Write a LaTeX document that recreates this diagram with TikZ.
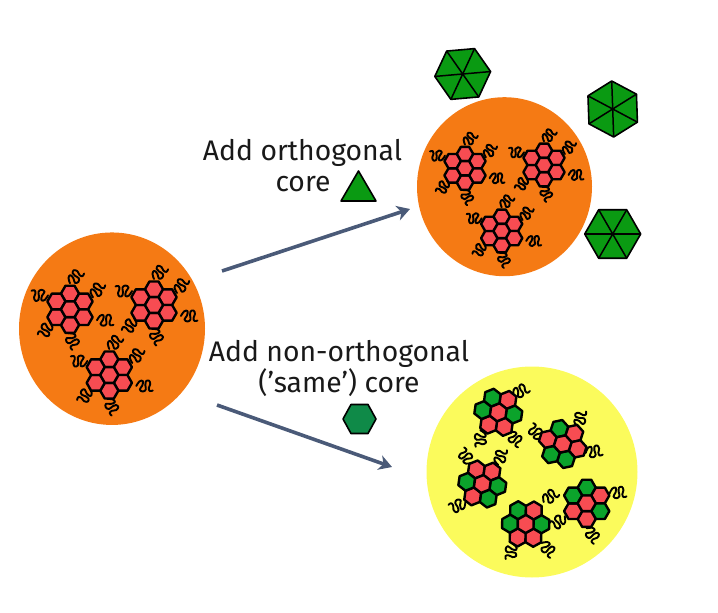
\documentclass[tikz,border=0pt]{standalone}
\usepackage{fontspec}
\setmainfont{Fira Sans}
\usetikzlibrary{arrows.meta,shapes.geometric}
\definecolor{orangeball}{HTML}{F57A14}
\definecolor{yellowball}{HTML}{FBFB5C}
\definecolor{hexred}{HTML}{F74C52}
\definecolor{hexgreen}{HTML}{0BA32B}
\definecolor{coregreen}{HTML}{0A9A12}
\definecolor{samegreen}{HTML}{0F8A48}
\definecolor{arrowslate}{HTML}{4A5A78}
\tikzset{
  ball/.style={circle,inner sep=0pt,minimum size=#1},
  hexcell/.style={draw=black,line width=2.4pt,line join=round},
  labeltext/.style={font=\fontsize{28.3}{32}\selectfont,anchor=base,inner sep=0pt,text=black!90},
  tailline/.style={draw=black,line width=1.9pt,line cap=round,line join=round},
  corehex/.style={draw=black,line width=1.6pt,line join=round,fill=coregreen},
  flow/.style={draw=arrowslate,line width=3.6pt,-{Stealth[length=13pt,width=15pt,inset=4pt]}},
}
\newcommand{\wavytail}[4]{%
  \begin{scope}[shift={({#1},{#2})},rotate=#3,scale=#4]
    \draw[tailline] plot[smooth,tension=0.7] coordinates
      {(0,0) (3,-4.5) (6.5,-5) (6,-0.5) (3.5,3.5) (6.5,5.5) (9.5,3.5) (9,-1) (9.5,-4.5) (12.5,-5.5) (14,-2) (12.5,2) (13.5,5) (16.5,4.5)};
  \end{scope}}
\newcommand{\hexcellat}[5]{%
  \pgfmathsetmacro{\hexrad}{#3}%
  \draw[hexcell,fill=#5]
    ({#1+\hexrad*cos(-(#4))},{#2-\hexrad*sin(-(#4))})
    -- ({#1+\hexrad*cos(60-(#4))},{#2-\hexrad*sin(60-(#4))})
    -- ({#1+\hexrad*cos(120-(#4))},{#2-\hexrad*sin(120-(#4))})
    -- ({#1+\hexrad*cos(180-(#4))},{#2-\hexrad*sin(180-(#4))})
    -- ({#1+\hexrad*cos(240-(#4))},{#2-\hexrad*sin(240-(#4))})
    -- ({#1+\hexrad*cos(300-(#4))},{#2-\hexrad*sin(300-(#4))}) -- cycle;}
% centre x, y, clockwise rotation, scale, ring colours, tails dx/dy/dir
\newcommand{\flake}[6]{%
  \foreach \tdx/\tdy/\tdir in {#6}{\wavytail{#1+#4*\tdx}{#2+#4*\tdy}{\tdir}{#4}}
  \foreach \cellcol [count=\cellno from 0] in {#5}{%
    \pgfmathsetmacro{\cellang}{90-(#3)-60*\cellno}%
    \pgfmathsetmacro{\cellx}{#1+15.7*#4*cos(\cellang)}%
    \pgfmathsetmacro{\celly}{#2-15.7*#4*sin(\cellang)}%
    \hexcellat{\cellx}{\celly}{9.06*#4}{#3}{\cellcol}}
  \hexcellat{#1}{#2}{9.06*#4}{#3}{hexred}}
\newcommand{\redflake}[3]{%
  \flake{#1}{#2}{0}{#3}{hexred,hexred,hexred,hexred,hexred,hexred}
    {0/-26/50,23/-12/60,27/11/0,-2/24/-60,-20/13/-120,-22/-14/180}}
\newcommand{\spokedhex}[4]{%
  \draw[corehex]
    ({#1+#3*cos(#4)},{#2-#3*sin(#4)})
    -- ({#1+#3*cos(#4+60)},{#2-#3*sin(#4+60)})
    -- ({#1+#3*cos(#4+120)},{#2-#3*sin(#4+120)})
    -- ({#1+#3*cos(#4+180)},{#2-#3*sin(#4+180)})
    -- ({#1+#3*cos(#4+240)},{#2-#3*sin(#4+240)})
    -- ({#1+#3*cos(#4+300)},{#2-#3*sin(#4+300)}) -- cycle;
  \foreach \spk in {0,60,120}{
    \draw[black,line width=1.5pt]
      ({#1+#3*cos(#4+\spk)},{#2-#3*sin(#4+\spk)}) -- ({#1-#3*cos(#4+\spk)},{#2+#3*sin(#4+\spk)});}}
\begin{document}
\begin{tikzpicture}[x=1pt,y=-1pt]
\useasboundingbox (0,0) rectangle (718,613);
% balls
\node[ellipse,inner sep=0pt,minimum width=186pt,minimum height=192.5pt,fill=orangeball] (leftball) at (112,328.7) {};
\node[ellipse,inner sep=0pt,minimum width=175pt,minimum height=179pt,fill=orangeball] (topball) at (504.5,186.7) {};
\node[ball=211pt,fill=yellowball] (bottomball) at (532,472) {};
% flakes in the left ball
\redflake{70}{309.3}{1}
\redflake{154}{305}{1}
\redflake{109.3}{375}{1}
% flakes in the top ball
\redflake{465}{168.3}{0.91}
\redflake{544}{165}{0.91}
\redflake{501.7}{231}{0.91}
% flakes in the yellow ball
\flake{498.3}{412.3}{-22}{1}{hexgreen,hexred,hexgreen,hexred,hexred,hexgreen}{15/-17/30,-18/18/-90,10/21/-40}
\flake{562.7}{444}{-12}{1}{hexgreen,hexred,hexred,hexgreen,hexgreen,hexred}{16/-17/80,23/9/10,-21/-6/135}
\flake{482.3}{484}{-22}{1}{hexred,hexred,hexgreen,hexgreen,hexred,hexgreen}{16/-19/75,-11/-21/130,-17/18/205}
\flake{525.7}{524}{-29}{1}{hexgreen,hexred,hexgreen,hexred,hexred,hexgreen}{18/-22/40,16/19/-45,-14/19/-95}
\flake{586.7}{503.3}{0}{1}{hexgreen,hexred,hexgreen,hexred,hexred,hexgreen}{23/-10/5,-22/13/220,0/25/-50}
% free core hexagons
\spokedhex{462.7}{74}{28}{5}
\spokedhex{612.7}{109}{28}{32}
\spokedhex{612.7}{234}{28}{0}
% labels
\node[labeltext] (lab1a) at (302.5,160) {Add orthogonal};
\node[labeltext] (lab1b) at (303,191.5) {core};
\node[labeltext] (lab2a) at (339,361) {Add non-orthogonal};
\node[labeltext] (lab2b) at (339,392) {(’same’) core};
% small core symbols
\draw[corehex] (358.5,171) -- (376,201) -- (341,201) -- cycle;
\draw[corehex,fill=samegreen] (376,419) -- (368,433.5) -- (351,433.5) -- (343,419) -- (351,404.5) -- (368,404.5) -- cycle;
% arrows
\coordinate (a1s) at (222,271);
\coordinate (a1e) at (410,209);
\coordinate (a2s) at (217,405);
\coordinate (a2e) at (392,467);
\draw[flow] (a1s) -- (a1e);
\draw[flow] (a2s) -- (a2e);
\end{tikzpicture}
\end{document}
